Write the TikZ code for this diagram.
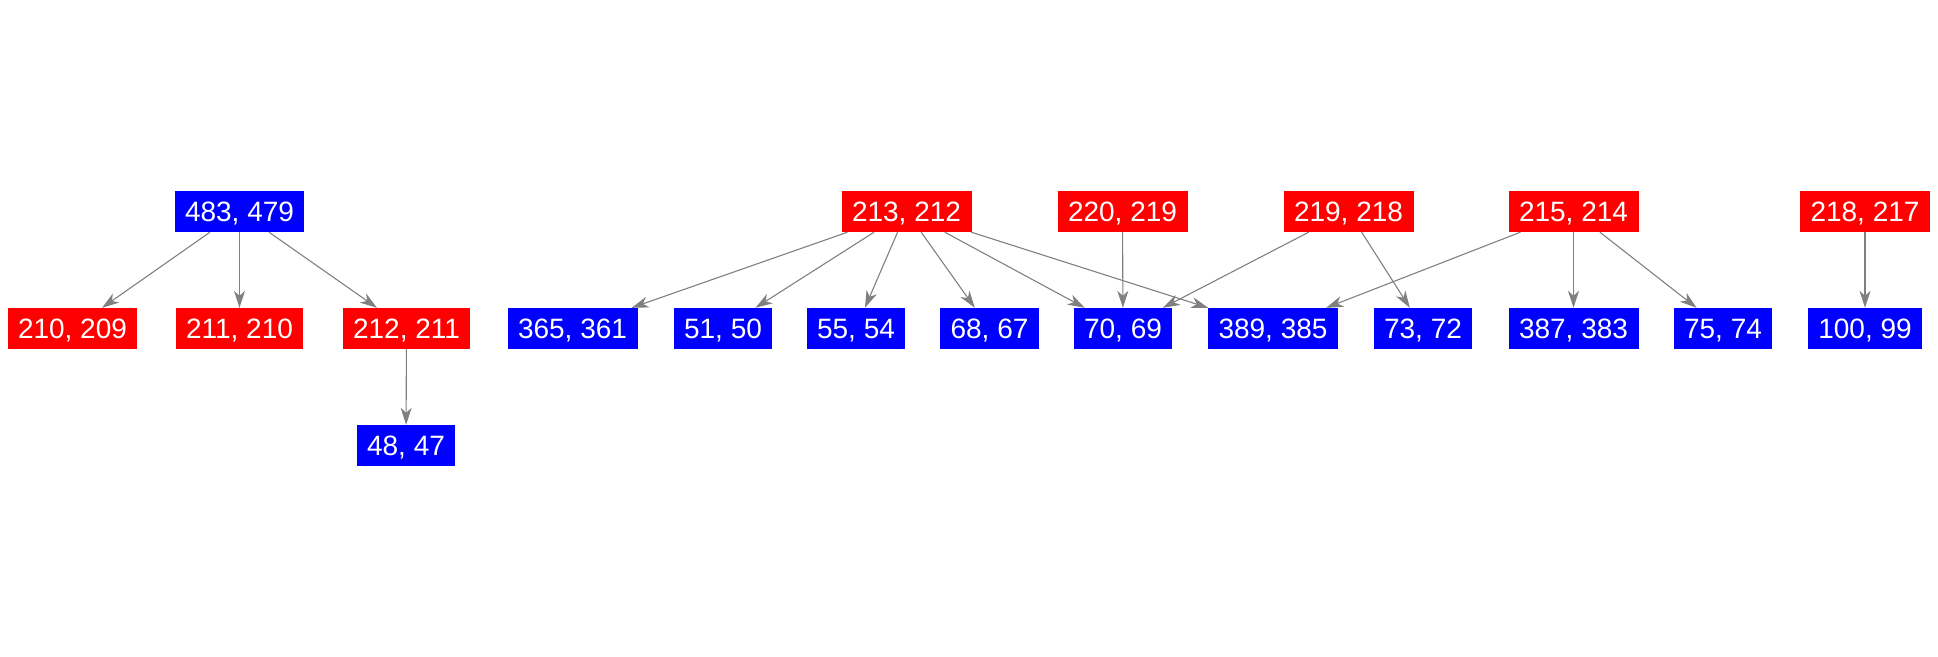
\documentclass[tikz,border=0pt]{standalone}
\usepackage{fontspec}
\setmainfont{Liberation Sans}
\usepackage{tikz}
\usetikzlibrary{arrows.meta}
\tikzset{edge/.style = {draw=gray, line width=1.1pt,
                        -{Stealth[length=17pt, width=11pt, inset=5pt]}}}
\tikzset{vstate/.style = {rectangle, text=white, inner xsep=10.5pt, inner ysep=0pt,
                          minimum height=41pt, text height=20pt, text depth=0pt,
                          font=\fontsize{28}{32}\selectfont}}
\tikzset{rstate/.style = {vstate, fill=red}}
\tikzset{bstate/.style = {vstate, fill=blue}}

\begin{document}
\begin{tikzpicture}[x=1pt, y=-1pt]
    \useasboundingbox (0, 0) rectangle (1938, 656);

    \node [bstate] (483) at (239.5, 211.5) {483, 479};
    \node [rstate] (210) at (72.5, 328.5) {210, 209};
    \node [rstate] (211) at (239.5, 328.5) {211, 210};
    \node [rstate] (212) at (406.5, 328.5) {212, 211};
    \node [bstate] (48) at (406, 445.5) {48, 47};

    \draw [edge] (483) -- (210);
    \draw [edge] (483) -- (211);
    \draw [edge] (483) -- (212);
    \draw [edge] (212) -- (48);

    \node [rstate] (213) at (906.5, 211.5) {213, 212};
    \node [rstate] (220) at (1122.5, 211.5) {220, 219};
    \node [rstate] (219) at (1348.5, 211.5) {219, 218};
    \node [rstate] (215) at (1573.5, 211.5) {215, 214};
    \node [rstate] (218) at (1865, 211.5) {218, 217};

    \node [bstate] (365) at (572.5, 328.5) {365, 361};
    \node [bstate] (51) at (723, 328.5) {51, 50};
    \node [bstate] (55) at (856, 328.5) {55, 54};
    \node [bstate] (68) at (989.5, 328.5) {68, 67};
    \node [bstate] (70) at (1123, 328.5) {70, 69};
    \node [bstate] (389) at (1273, 328.5) {389, 385};
    \node [bstate] (73) at (1423, 328.5) {73, 72};
    \node [bstate] (387) at (1573.5, 328.5) {387, 383};
    \node [bstate] (75) at (1723, 328.5) {75, 74};
    \node [bstate] (100) at (1865, 328.5) {100, 99};

    \draw [edge] (213) -- (365);
    \draw [edge] (213) -- (51);
    \draw [edge] (213) -- (55);
    \draw [edge] (213) -- (68);
    \draw [edge] (213) -- (70);
    \draw [edge] (213) -- (389);
    \draw [edge] (220) -- (70);
    \draw [edge] (219) -- (70);
    \draw [edge] (219) -- (73);
    \draw [edge] (215) -- (389);
    \draw [edge] (215) -- (387);
    \draw [edge] (215) -- (75);
    \draw [edge] (218) -- (100);
\end{tikzpicture}
\end{document}
